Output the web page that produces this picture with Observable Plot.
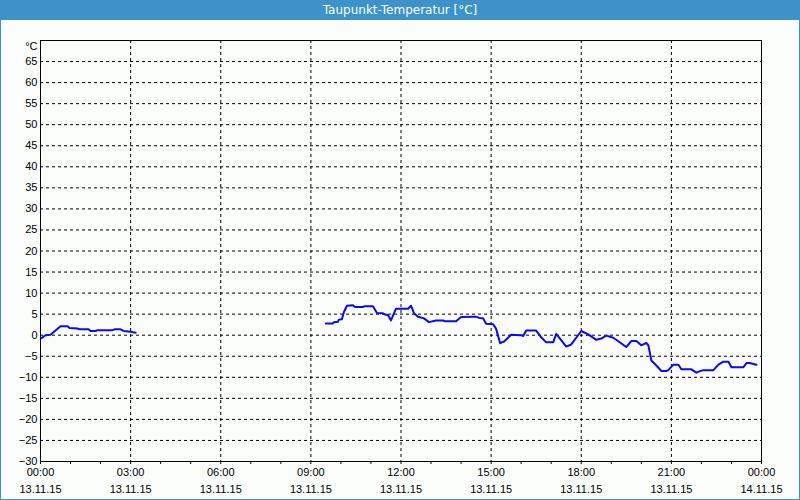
<!DOCTYPE html>
<html>
<head>
<meta charset="utf-8">
<script src="https://cdn.jsdelivr.net/npm/d3@7"></script>
<script src="https://cdn.jsdelivr.net/npm/@observablehq/plot@0.6"></script>
<style>
  html, body { margin: 0; padding: 0; background: #fff; }
  #frame { position: relative; width: 798px; height: 499px; border: 1px solid #3c92c9; border-top: none; background: #fafdfa; overflow: hidden; }
  #title { height: 20px; line-height: 20px; background: #3c92c9; color: #fff; text-align: center; font-family: "DejaVu Sans", sans-serif; font-size: 12px; }
  #chart svg { display: block; }
</style>
</head>
<body>
<div id="frame">
  <div id="title">Taupunkt-Temperatur [°C]</div>
  <div id="chart"></div>
</div>
<script>
// Segment 1 (night)
const times1 = ["00:02","00:10","00:20","00:40","00:54","00:58","01:14","01:18","01:36","01:40","01:50","01:54","02:24","02:28","02:40","02:46","03:00","03:10"];
const values1 = [-0.7,0.0,0.1,2.1,2.1,1.7,1.6,1.4,1.4,1.0,1.0,1.2,1.2,1.4,1.4,1.0,0.8,0.6];
// Segment 2 (day)
const times2 = ["09:30","09:44","09:46","09:54","09:56","10:02","10:06","10:12","10:24","10:28","10:44","10:48","11:04","11:12","11:24","11:28","11:34","11:40","11:50","12:14","12:20","12:26","12:34","12:46","12:56","13:10","13:24","13:28","13:50","14:00","14:30","14:36","14:44","14:50","15:04","15:10","15:18","15:26","15:40","16:00","16:04","16:10","16:30","16:40","16:50","17:04","17:10","17:30","17:40","18:00","18:14","18:30","18:40","18:50","19:04","19:30","19:40","19:50","20:00","20:10","20:14","20:20","20:30","20:40","20:50","20:54","21:04","21:14","21:20","21:40","21:50","21:56","22:04","22:24","22:34","22:44","22:54","23:00","23:24","23:30","23:36","23:50"];
const values2 = [2.8,2.8,3.1,3.2,3.7,3.8,5.5,7.0,7.1,6.7,6.7,6.9,6.9,5.3,5.2,4.9,4.8,3.5,6.3,6.3,7.0,5.2,4.4,4.0,3.1,3.5,3.5,3.3,3.3,4.3,4.4,4.1,4.0,2.7,2.6,1.5,-1.9,-1.5,0.1,0.0,-0.2,1.1,1.1,-0.5,-1.7,-1.7,0.3,-2.7,-2.2,1.0,0.2,-1.1,-0.8,-0.1,-0.6,-2.8,-1.4,-1.4,-2.4,-1.8,-2.4,-6.0,-7.2,-8.5,-8.5,-8.3,-7.0,-7.0,-8.1,-8.1,-8.9,-8.6,-8.3,-8.3,-7.0,-6.3,-6.3,-7.6,-7.6,-6.6,-6.6,-7.0];

const yTicks = [-30,-25,-20,-15,-10,-5,0,5,10,15,20,25,30,35,40,45,50,55,60,65];
const xTickHours = [0,3,6,9,12,15,18,21,24];
const unitLabel = "°C";

const toDate = (s, day = 13) => {
  const [h, m] = s.split(":").map(Number);
  return new Date(Date.UTC(2015, 10, day, h, m));
};
const data = [
  ...times1.map((t, i) => ({ t: toDate(t), v: values1[i], seg: 1 })),
  ...times2.map((t, i) => ({ t: toDate(t), v: values2[i], seg: 2 }))
];
const d0 = new Date(Date.UTC(2015, 10, 13, 0, 0));
const d1 = new Date(Date.UTC(2015, 10, 14, 0, 0));
const xTicks = xTickHours.map(h => new Date(d0.getTime() + h * 3600e3));
const hourTicks = d3.range(0, 25).map(h => new Date(d0.getTime() + h * 3600e3));
const fmt = d3.utcFormat("%H:%M\n%d.%m.%y");

const chart = Plot.plot({
  width: 798,
  height: 479,
  marginTop: 20,
  marginBottom: 38,
  marginLeft: 39,
  marginRight: 38,
  style: { background: "transparent", fontFamily: "'Liberation Sans', Arial, sans-serif", fontSize: "11px", color: "#000" },
  x: { type: "utc", domain: [d0, d1] },
  y: { domain: [-30, 70] },
  marks: [
    Plot.gridY(yTicks.filter(v => v > -30), { stroke: "#000", strokeOpacity: 1, strokeDasharray: "3,3" }),
    Plot.gridX(xTicks.slice(1, -1), { stroke: "#000", strokeOpacity: 1, strokeDasharray: "3,3" }),
    Plot.frame({ stroke: "#000" }),
    Plot.axisY(yTicks, { tickSize: 0, tickPadding: 3, label: null, fill: "#000" }),
    Plot.text([unitLabel], { x: d0, y: 70, dx: -3, dy: 6, textAnchor: "end", fill: "#000" }),
    Plot.axisX(hourTicks, { tickSize: 3, tickFormat: () => "", label: null }),
    Plot.axisX(xTicks, { tickSize: 0, tickPadding: 3, tickFormat: fmt, label: null, lineHeight: 1.5, fill: "#000" }),
    Plot.line(data, { x: "t", y: "v", z: "seg", stroke: "#0a0aee", strokeWidth: 2, curve: "linear" })
  ]
});
document.getElementById("chart").appendChild(chart);
</script>
</body>
</html>
